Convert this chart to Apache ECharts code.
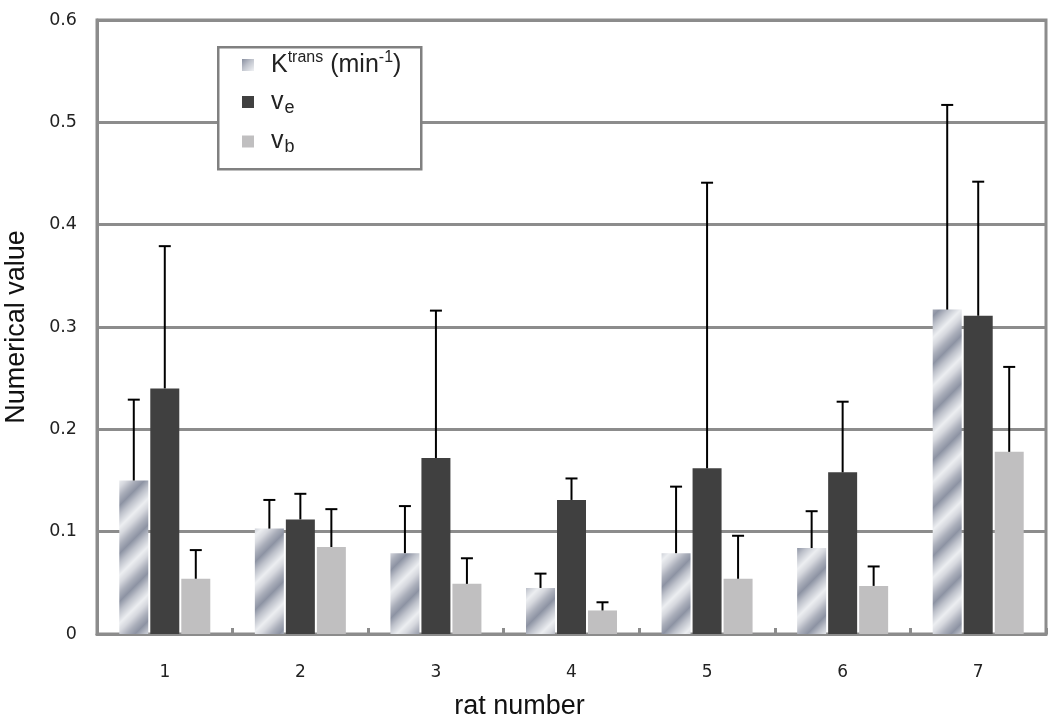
<!DOCTYPE html>
<html>
<head>
<meta charset="utf-8">
<script src="https://cdn.jsdelivr.net/npm/echarts@6/dist/echarts.min.js"></script>
<style>html,body{margin:0;padding:0;background:#fff}#c{width:1050px;height:725px}</style>
</head>
<body>
<div id="c"></div>
<script>
var categories = ['1','2','3','4','5','6','7'];
var seriesNames = ['Ktrans','ve','vb'];
var ktrans = [0.150, 0.103, 0.079, 0.045, 0.079, 0.084, 0.317];
var ktransErr = [0.229, 0.131, 0.125, 0.059, 0.144, 0.120, 0.517];
var ve = [0.240, 0.112, 0.172, 0.131, 0.162, 0.158, 0.311];
var veErr = [0.379, 0.137, 0.316, 0.152, 0.441, 0.227, 0.442];
var vb = [0.054, 0.085, 0.049, 0.023, 0.054, 0.047, 0.178];
var vbErr = [0.082, 0.122, 0.074, 0.031, 0.096, 0.066, 0.261];
var yTicks = [0, 0.1, 0.2, 0.3, 0.4, 0.5, 0.6];

var BW = 29, GAP = 2;

function makePattern() {
  var S = 96, P = 48;
  var cv = document.createElement('canvas');
  cv.width = S; cv.height = S;
  var ctx = cv.getContext('2d');
  var stops = [[0,[141,147,163]],[0.2,[190,194,203]],[0.45,[236,238,241]],[0.62,[214,216,222]],[0.82,[170,174,186]],[1,[141,147,163]]];
  var img = ctx.createImageData(S, S);
  for (var y = 0; y < S; y++) for (var x = 0; x < S; x++) {
    var t = ((x + y) % P) / P, c;
    for (var k = 1; k < stops.length; k++) {
      if (t <= stops[k][0]) {
        var a = stops[k-1], b = stops[k], f = (t - a[0]) / (b[0] - a[0]);
        c = [0,1,2].map(function(j){return Math.round(a[1][j] + (b[1][j]-a[1][j])*f);});
        break;
      }
    }
    var o = (y * S + x) * 4;
    img.data[o] = c[0]; img.data[o+1] = c[1]; img.data[o+2] = c[2]; img.data[o+3] = 255;
  }
  ctx.putImageData(img, 0, 0);
  return cv;
}
var pattern = {image: makePattern(), repeat: 'repeat'};

function errSeries(idx, vals, errs) {
  return {
    type: 'custom',
    z: 5,
    silent: true,
    data: vals.map(function(v, i){ return [i, v, errs[i]]; }),
    encode: {x: 0, y: [1, 2]},
    renderItem: function(params, api) {
      var i = api.value(0);
      var p0 = api.coord([i, api.value(1)]);
      var p1 = api.coord([i, api.value(2)]);
      var x = p0[0] + (idx - 1) * (BW + GAP);
      var cap = 6;
      return {
        type: 'group',
        children: [
          {type: 'line', shape: {x1: x, y1: p0[1], x2: x, y2: p1[1]}, style: {stroke: '#000', lineWidth: 2}},
          {type: 'line', shape: {x1: x - cap, y1: p1[1], x2: x + cap, y2: p1[1]}, style: {stroke: '#000', lineWidth: 2}}
        ]
      };
    }
  };
}

var chart = echarts.init(document.getElementById('c'));
chart.setOption({
  backgroundColor: '#fff',
  animation: false,
  grid: {left: 97, right: 4, top: 20, bottom: 91, containLabel: false, outerBoundsMode: 'none',
    show: true, borderColor: '#8c8c8c', borderWidth: 3, backgroundColor: 'transparent'},
  graphic: [{
    type: 'rect', z: 15, left: 217, top: 46,
    shape: {width: 203, height: 122},
    style: {fill: '#fff', stroke: '#808080', lineWidth: 2.5}
  }],
  legend: {
    z: 20,
    orient: 'vertical',
    left: 237, top: 45,
    itemWidth: 12, itemHeight: 12, itemGap: 12,
    icon: 'rect',
    data: seriesNames,
    textStyle: {
      color: '#222', fontFamily: 'Liberation Sans', fontSize: 25,
      rich: {
        n: {fontSize: 25, fontFamily: 'Liberation Sans', color: '#222', lineHeight: 30, padding: [0,0,0,12]},
        m: {fontSize: 25, fontFamily: 'Liberation Sans', color: '#222', lineHeight: 30},
        sup: {fontSize: 16, fontFamily: 'Liberation Sans', color: '#222', lineHeight: 16, verticalAlign: 'top'},
        sub: {fontSize: 18, fontFamily: 'Liberation Sans', color: '#222', lineHeight: 18, verticalAlign: 'bottom', padding: [8,0,0,1]}
      }
    },
    formatter: function(name) {
      if (name === 'Ktrans') return '{n|K}{sup|trans}{m| (min}{sup|-1}{m|)}';
      if (name === 've') return '{n|v}{sub|e}';
      return '{n|v}{sub|b}';
    }
  },
  xAxis: {
    type: 'category',
    data: categories,
    name: 'rat number',
    nameLocation: 'middle',
    nameGap: 59,
    nameTextStyle: {fontFamily: 'Liberation Sans', fontSize: 27, color: '#111', padding: [0, 104, 0, 0]},
    axisLine: {lineStyle: {color: '#8c8c8c', width: 3}},
    axisTick: {show: true, inside: true, length: 6, lineStyle: {color: '#8c8c8c', width: 3}},
    axisLabel: {fontFamily: 'DejaVu Sans', fontSize: 17, color: '#222', margin: 30}
  },
  yAxis: {
    type: 'value',
    min: 0, max: 0.6, interval: 0.1,
    name: 'Numerical value',
    nameLocation: 'middle',
    nameGap: 67,
    nameTextStyle: {fontFamily: 'Liberation Sans', fontSize: 27, color: '#111'},
    axisLine: {show: true, lineStyle: {color: '#8c8c8c', width: 3}},
    axisTick: {show: false},
    splitLine: {lineStyle: {color: '#8c8c8c', width: 3}},
    axisLabel: {fontFamily: 'DejaVu Sans', fontSize: 17.5, color: '#222', margin: 20,
      formatter: function(v){ return Math.abs(v) < 1e-9 ? '0' : String(+v.toFixed(1)); }}
  },
  series: [
    {name: 'Ktrans', type: 'bar', data: ktrans, barWidth: BW, barGap: (GAP / BW * 100) + '%', itemStyle: {color: pattern}, z: 3},
    {name: 've', type: 'bar', data: ve, barWidth: BW, barGap: (GAP / BW * 100) + '%', itemStyle: {color: '#404040'}, z: 3},
    {name: 'vb', type: 'bar', data: vb, barWidth: BW, barGap: (GAP / BW * 100) + '%', itemStyle: {color: '#c0bfc0'}, z: 3},
    errSeries(0, ktrans, ktransErr),
    errSeries(1, ve, veErr),
    errSeries(2, vb, vbErr)
  ]
});
</script>
</body>
</html>
